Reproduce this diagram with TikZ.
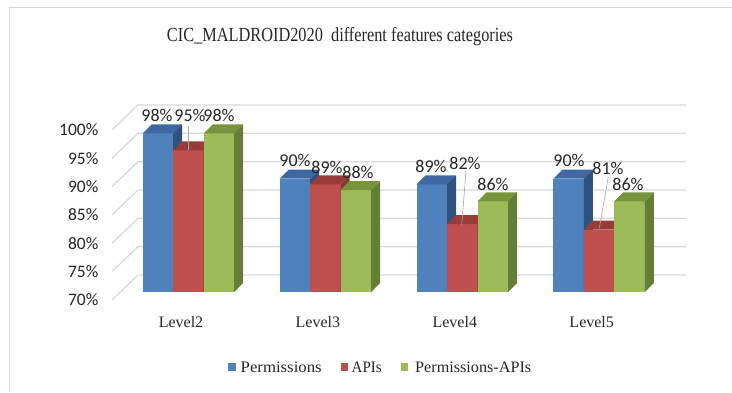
\documentclass[tikz,border=0pt]{standalone}
\usepackage{fontspec}
\usepackage{graphicx}
\setmainfont{Liberation Serif}
\newfontfamily\numfont{Carlito}
\definecolor{gridc}{HTML}{D9D9D9}
\definecolor{bfront}{HTML}{4F81BD}
\definecolor{btop}{HTML}{3D68A2}
\definecolor{bside}{HTML}{30527F}
\definecolor{rfront}{HTML}{C0504D}
\definecolor{rtop}{HTML}{993B39}
\definecolor{rside}{HTML}{8C3533}
\definecolor{gfront}{HTML}{9BBB59}
\definecolor{gtop}{HTML}{77933C}
\definecolor{gside}{HTML}{657E36}
\definecolor{txt}{HTML}{262626}
\tikzset{
  gridline/.style={draw=gridc, line width=1.3pt},
  frameline/.style={draw=gridc, line width=1pt},
  vallabel/.style={font=\numfont\fontsize{18}{18}\selectfont, text=txt, inner sep=0pt},
  axlabel/.style={font=\numfont\fontsize{17.5}{17.5}\selectfont, text=txt, inner sep=0pt, anchor=east},
  catlabel/.style={text=txt, inner sep=0pt},
  leader/.style={draw=gray!70, line width=0.6pt},
  legsq/.style={minimum size=7.5pt, inner sep=0pt},
}
\newcommand{\mybar}[5]{% x0, value, front, top, side
  \pgfmathsetmacro{\xa}{#1}
  \pgfmathsetmacro{\xb}{#1+30.5}
  \pgfmathsetmacro{\yt}{292-5.6667*(#2-70)}
  \fill[#3] (\xa,292) rectangle (\xb,\yt);
  \fill[#4] (\xa,\yt) -- (\xa+9,\yt-9) -- (\xb+9,\yt-9) -- (\xb,\yt) -- cycle;
  \fill[#5] (\xb,292) -- (\xb+9,283) -- (\xb+9,\yt-9) -- (\xb,\yt) -- cycle;
}
\begin{document}
\begin{tikzpicture}[x=1pt,y=-1pt]
\useasboundingbox (0,0) rectangle (732,392);
% frame
\draw[frameline] (9,392) -- (9,7) -- (732,7);
% title
\node[inner sep=0pt, text=txt] (title) at (340,37) {\resizebox{346pt}{\height}{\fontsize{20}{20}\selectfont CIC\_MALDROID2020\ \ different features categories}};
% grid
\foreach \k in {0,...,6} {
  \draw[gridline] (112,{300-28.333*\k}) -- (138,{275-28.333*\k}) -- (686,{275-28.333*\k});
}
% axis labels
\foreach \k/\t in {0/70,1/75,2/80,3/85,4/90,5/95,6/100} {
  \node[axlabel] (ax\t) at (98.5,{300-28.333*\k}) {\t\%};
}
% bars
\foreach \i/\va/\vb/\vc in {0/98/95/98,1/90/89/88,2/89/82/86,3/90/81/86} {
  \pgfmathsetmacro{\gx}{142.7+136.9*\i}
  \mybar{\gx}{\va}{bfront}{btop}{bside}
  \mybar{\gx+30.5}{\vb}{rfront}{rtop}{rside}
  \mybar{\gx+61}{\vc}{gfront}{gtop}{gside}
}
% category labels
\foreach \i/\n in {0/2,1/3,2/4,3/5} {
  \node[catlabel, font=\fontsize{16}{16}\selectfont] (cat\n) at ({181+136.9*\i},322) {Level\n};
}
% value labels
\node[vallabel] (v2a) at (157,115) {98\%};
\node[vallabel] (v2b) at (190,115) {95\%};
\node[vallabel] (v2c) at (219,115) {98\%};
\node[vallabel] (v3a) at (295,160) {90\%};
\node[vallabel] (v3b) at (327,167) {89\%};
\node[vallabel] (v3c) at (358,172) {88\%};
\node[vallabel] (v4a) at (431,166) {89\%};
\node[vallabel] (v4b) at (465,163) {82\%};
\node[vallabel] (v4c) at (493,184) {86\%};
\node[vallabel] (v5a) at (569,160) {90\%};
\node[vallabel] (v5b) at (608,168) {81\%};
\node[vallabel] (v5c) at (628,184) {86\%};
% leader lines
\coordinate (l2s) at (188.3,126);
\coordinate (l2e) at (188.3,150);
\coordinate (l4s) at (466,171);
\coordinate (l4e) at (461.7,225);
\coordinate (l5s) at (608.3,177);
\coordinate (l5e) at (599.3,228);
\draw[leader] (l2s) -- (l2e);
\draw[leader] (l4s) -- (l4e);
\draw[leader] (l5s) -- (l5e);
% legend
\node[legsq, fill=bfront] (lg1) at (232,367) {};
\node[catlabel, anchor=west] (lt1) at (240.5,367.5) {\resizebox{81pt}{\height}{\fontsize{16}{16}\selectfont Permissions}};
\node[legsq, fill=rfront] (lg2) at (344.5,367) {};
\node[catlabel, anchor=west] (lt2) at (351.5,367.5) {\resizebox{30pt}{\height}{\fontsize{16}{16}\selectfont APIs}};
\node[legsq, fill=gfront] (lg3) at (404.5,367) {};
\node[catlabel, anchor=west] (lt3) at (415,367.5) {\resizebox{116pt}{\height}{\fontsize{16}{16}\selectfont Permissions-APIs}};
\end{tikzpicture}
\end{document}
